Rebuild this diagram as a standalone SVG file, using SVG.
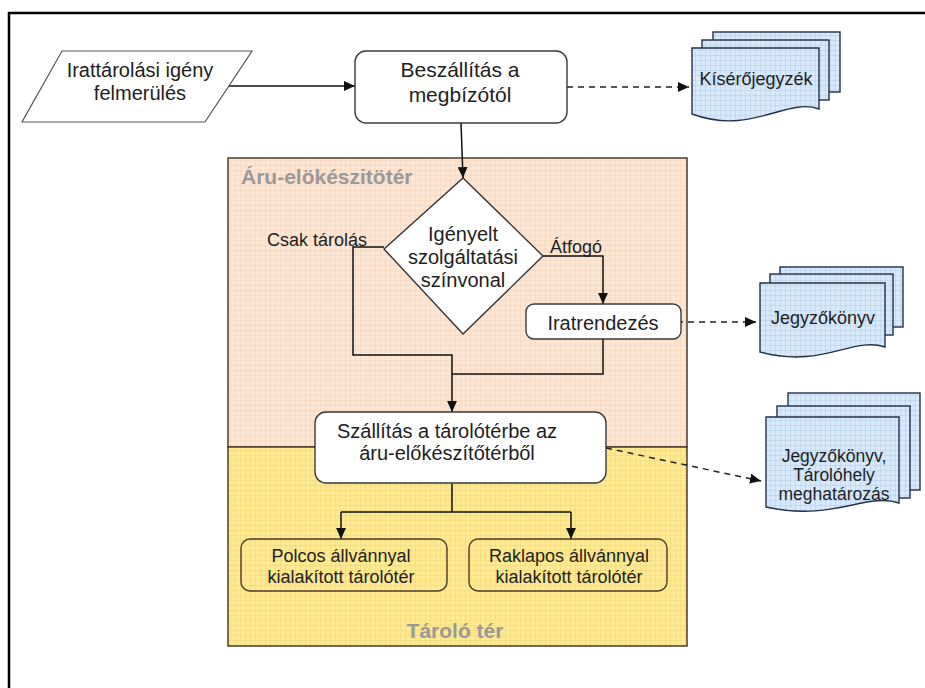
<svg xmlns="http://www.w3.org/2000/svg" width="925" height="688" viewBox="0 0 925 688">
  <defs>
    <style>
      text { font-family: "Liberation Sans", Arial, sans-serif; fill: #1e1e1e; }
      .c { text-anchor: middle; }
      .f20 { font-size: 20px; }
      .f21 { font-size: 21px; }
      .f18 { font-size: 18px; }
      .zone-label { font-size: 21px; font-weight: bold; fill: #9c9898; }
      .box { fill: #ffffff; stroke: #3a3a3a; stroke-width: 1.4; }
      .frame-box { fill: none; stroke: #4a3a28; stroke-width: 1.4; }
      .zone { stroke: #4d3b2a; stroke-width: 1.5; }
      .doc { fill: url(#gridBlue); stroke: #23304a; stroke-width: 1.4; }
      .wire { fill: none; stroke: #111; stroke-width: 1.5; }
      .dash { fill: none; stroke: #222; stroke-width: 1.5; stroke-dasharray: 6 5; }
    </style>
    <pattern id="gridPeach" width="5" height="5" patternUnits="userSpaceOnUse">
      <rect width="5" height="5" fill="#fde6d3"/>
      <path d="M0,0.5 H5 M0.5,0 V5" stroke="#f6d4ba" stroke-width="0.6"/>
    </pattern>
    <pattern id="gridYellow" width="5" height="5" patternUnits="userSpaceOnUse">
      <rect width="5" height="5" fill="#feea92"/>
      <path d="M0,0.5 H5 M0.5,0 V5" stroke="#f2d775" stroke-width="0.6"/>
    </pattern>
    <pattern id="gridBlue" width="5" height="5" patternUnits="userSpaceOnUse">
      <rect width="5" height="5" fill="#d8e9fb"/>
      <path d="M0,0.5 H5 M0.5,0 V5" stroke="#b6d0ee" stroke-width="0.6"/>
    </pattern>
    <marker id="ah" viewBox="0 0 10 10" refX="10" refY="5" markerWidth="11" markerHeight="11" markerUnits="userSpaceOnUse" orient="auto">
      <path d="M0,0.5 L10,5 L0,9.5 Z" fill="#111"/>
    </marker>
  </defs>

  <!-- page frame -->
  <path d="M9,688 V13 H925" fill="none" stroke="#000" stroke-width="2.5"/>

  <!-- zones -->
  <g id="zone-prep">
    <rect class="zone" x="228" y="158" width="459" height="289" fill="url(#gridPeach)"/>
    <text class="zone-label" x="241" y="184">Áru-elökészitötér</text>
  </g>
  <g id="zone-storage">
    <rect class="zone" x="228" y="447" width="459" height="199" fill="url(#gridYellow)"/>
    <text class="zone-label c" x="455" y="638">Tároló tér</text>
  </g>

  <!-- connectors -->
  <g id="connectors">
    <path class="wire" d="M229,86 H355" marker-end="url(#ah)"/>
    <path class="wire" d="M461,123 L463,178" marker-end="url(#ah)"/>
    <path class="dash" d="M567,87 H689" marker-end="url(#ah)"/>
    <path class="wire" d="M384,247 H353 V355 H452 V374"/>
    <path class="wire" d="M542,256 H603 V304" marker-end="url(#ah)"/>
    <path class="wire" d="M603,339 V374 H452 V412" marker-end="url(#ah)"/>
    <path class="dash" d="M677,322 H756" marker-end="url(#ah)"/>
    <path class="dash" d="M606,448 L761,481" marker-end="url(#ah)"/>
    <path class="wire" d="M452,483 V512 M341,512 H571"/>
    <path class="wire" d="M341,512 V539" marker-end="url(#ah)"/>
    <path class="wire" d="M571,512 V539" marker-end="url(#ah)"/>
  </g>

  <!-- nodes -->
  <g id="start">
    <path d="M62,51 H252 L205,122 H22 Z" fill="#fff" stroke="#555" stroke-width="1.2"/>
    <text class="c f20" x="140" y="77">Irattárolási igény</text>
    <text class="c f20" x="140" y="100">felmerülés</text>
  </g>

  <g id="delivery">
    <rect class="box" x="355" y="51" width="212" height="72" rx="11"/>
    <text class="c f21" x="460" y="77">Beszállítás a</text>
    <text class="c f21" x="460" y="102">megbízótól</text>
  </g>

  <g id="doc-list">
    <rect class="doc" x="713" y="32" width="127" height="60"/>
    <rect class="doc" x="702" y="40" width="127" height="60"/>
    <path class="doc" d="M692,48 H819 V109 C786,97 752,136 692,114 Z"/>
    <text class="c f18" x="756" y="85">Kísérőjegyzék</text>
  </g>

  <g id="decision">
    <path d="M463,178 L543,256 L463,334 L384,249 Z" fill="#fff" stroke="#333" stroke-width="1.4"/>
    <text class="c f20" x="463" y="241">Igényelt</text>
    <text class="c f20" x="463" y="264">szolgáltatási</text>
    <text class="c f20" x="463" y="287">színvonal</text>
  </g>

  <g id="label-store-only">
    <text class="f18" x="267" y="246">Csak tárolás</text>
  </g>
  <g id="label-full">
    <text class="f18" x="550" y="253">Átfogó</text>
  </g>

  <g id="sorting">
    <rect class="box" x="526" y="304" width="155" height="35" rx="8"/>
    <text class="c f20" x="603" y="330">Iratrendezés</text>
  </g>

  <g id="doc-report">
    <rect class="doc" x="780" y="267" width="123" height="60"/>
    <rect class="doc" x="770" y="274" width="123" height="61"/>
    <path class="doc" d="M760,283 H885 V347 C853,336 822,369 760,352 Z"/>
    <text class="c f18" x="823" y="324">Jegyzőkönyv</text>
  </g>

  <g id="transfer">
    <rect class="box" x="315" y="412" width="291" height="71" rx="11"/>
    <text class="c f20" x="447" y="438">Szállítás a tárolótérbe az</text>
    <text class="c f20" x="447" y="460">áru-előkészítőtérből</text>
  </g>

  <g id="doc-location">
    <rect class="doc" x="788" y="393" width="132" height="97"/>
    <rect class="doc" x="777" y="406" width="133" height="92"/>
    <path class="doc" d="M766,417 H899 V503 C866,492 833,522 766,507 Z"/>
    <text class="c" x="834" y="462" style="font-size:17.5px">Jegyzőkönyv,</text>
    <text class="c" x="834" y="481" style="font-size:17.5px">Tárolóhely</text>
    <text class="c" x="834" y="500" style="font-size:17.5px">meghatározás</text>
  </g>

  <g id="shelf-store">
    <rect class="frame-box" x="241" y="539" width="206" height="52" rx="9"/>
    <text class="c f18" x="341" y="562">Polcos állvánnyal</text>
    <text class="c f18" x="341" y="583">kialakított tárolótér</text>
  </g>

  <g id="pallet-store">
    <rect class="frame-box" x="469" y="539" width="198" height="52" rx="9"/>
    <text class="c f18" x="569" y="562">Raklapos állvánnyal</text>
    <text class="c f18" x="569" y="583">kialakított tárolótér</text>
  </g>
</svg>
